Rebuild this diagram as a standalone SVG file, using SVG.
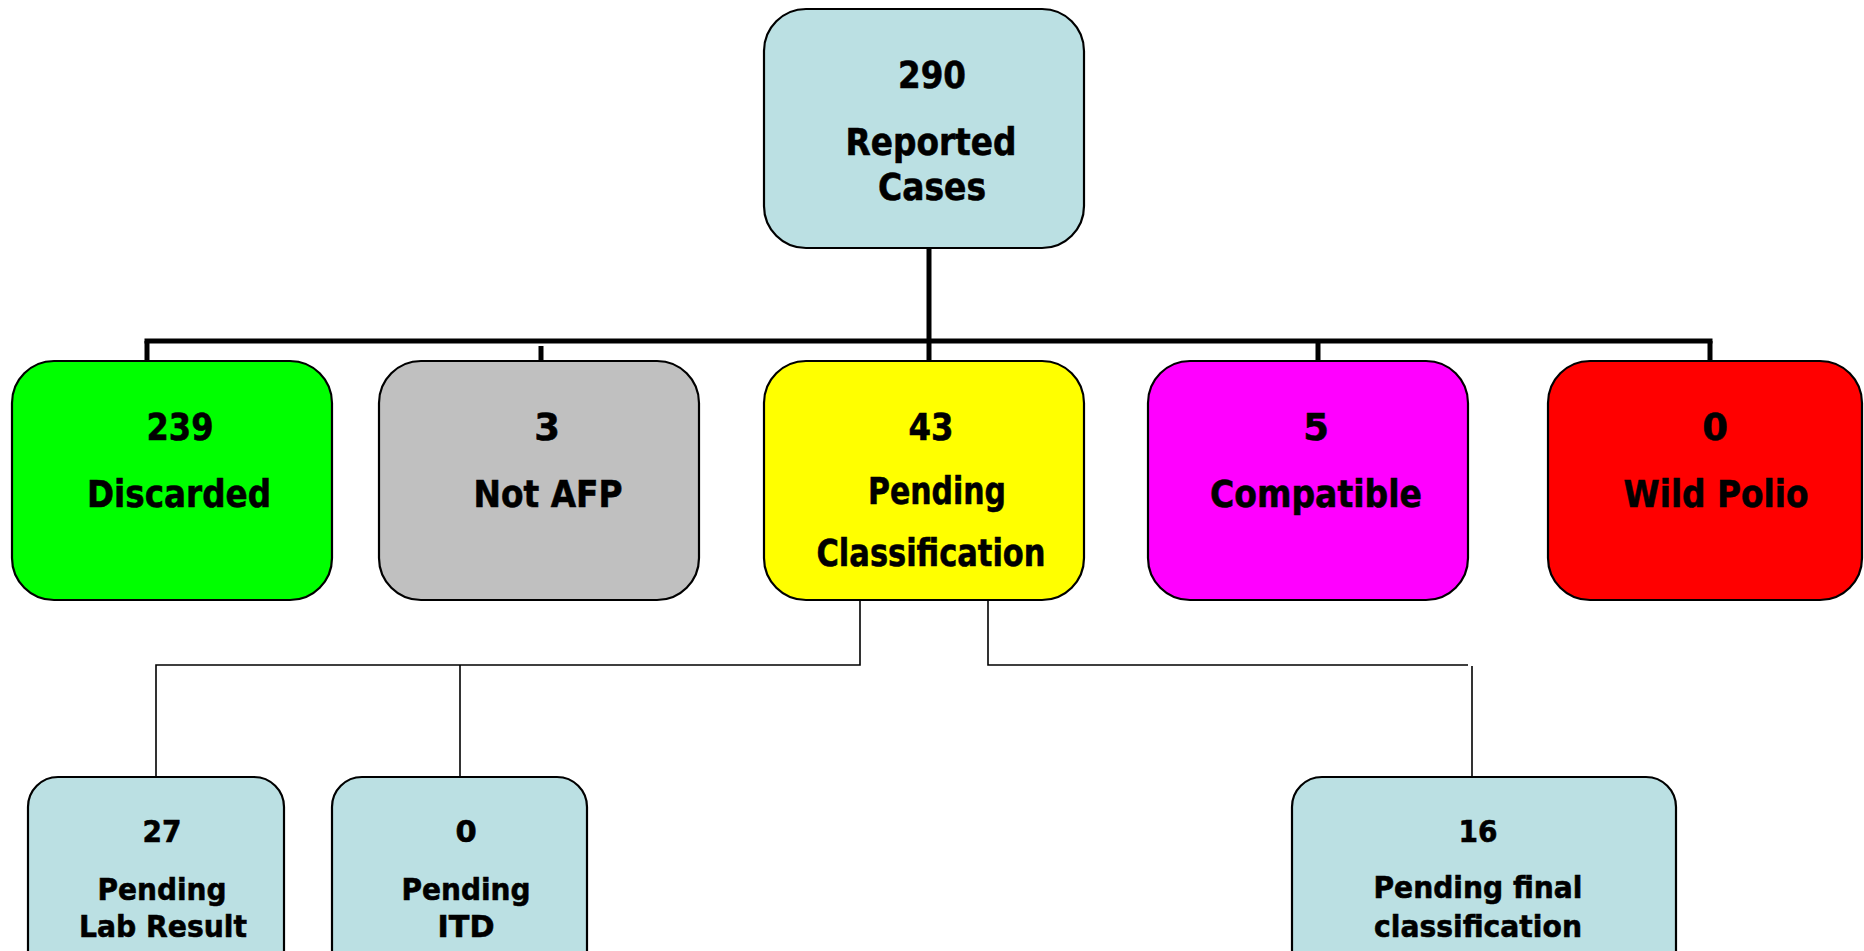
<svg xmlns="http://www.w3.org/2000/svg" width="1864" height="951" viewBox="0 0 1864 951">
<style>
.box{stroke:#000;stroke-width:2.2}
.blue{fill:#BBE0E3}
.t{font-family:"DejaVu Sans","Liberation Sans",sans-serif;font-weight:bold;fill:#000;stroke:#000;stroke-width:0.6;text-anchor:middle}
.big{font-size:37px}
.sm{font-size:30.5px}
.thick{stroke:#000;stroke-width:5;fill:none}
.thin{stroke:#000;stroke-width:1.6;fill:none}
</style>
<rect width="1864" height="951" fill="#fff"/>
<g id="connectors">
<line class="thick" x1="929" y1="248" x2="929" y2="361"/>
<line class="thick" x1="144.5" y1="341" x2="1712.5" y2="341"/>
<line class="thick" x1="147" y1="341" x2="147" y2="361"/>
<line class="thick" x1="541" y1="346" x2="541" y2="361"/>
<line class="thick" x1="1318" y1="341" x2="1318" y2="361"/>
<line class="thick" x1="1710" y1="341" x2="1710" y2="361"/>
<polyline class="thin" points="860,600 860,665 156,665 156,777"/>
<line class="thin" x1="460" y1="665" x2="460" y2="777"/>
<polyline class="thin" points="988,600 988,665 1468,665"/>
<line class="thin" x1="1472" y1="666" x2="1472" y2="777"/>
</g>
<g id="reported">
<rect class="box blue" x="764" y="9" width="320" height="239" rx="42"/>
<text class="t big" x="932" y="88" textLength="68" lengthAdjust="spacingAndGlyphs">290</text>
<text class="t big" x="931" y="155" textLength="171" lengthAdjust="spacingAndGlyphs">Reported</text>
<text class="t big" x="932" y="200" textLength="108" lengthAdjust="spacingAndGlyphs">Cases</text>
</g>
<g id="discarded">
<rect class="box" fill="#00FF00" x="12" y="361" width="320" height="239" rx="42"/>
<text class="t big" x="180" y="440" textLength="67" lengthAdjust="spacingAndGlyphs">239</text>
<text class="t big" x="179" y="507" textLength="184" lengthAdjust="spacingAndGlyphs">Discarded</text>
</g>
<g id="notafp">
<rect class="box" fill="#C0C0C0" x="379" y="361" width="320" height="239" rx="42"/>
<text class="t big" x="547" y="440">3</text>
<text class="t big" x="548" y="507" textLength="149" lengthAdjust="spacingAndGlyphs">Not AFP</text>
</g>
<g id="pending">
<rect class="box" fill="#FFFF00" x="764" y="361" width="320" height="239" rx="42"/>
<text class="t big" x="931" y="440" textLength="45" lengthAdjust="spacingAndGlyphs">43</text>
<text class="t big" x="937" y="504" textLength="138" lengthAdjust="spacingAndGlyphs">Pending</text>
<text class="t big" x="931" y="566" textLength="229" lengthAdjust="spacingAndGlyphs">Classification</text>
</g>
<g id="compatible">
<rect class="box" fill="#FF00FF" x="1148" y="361" width="320" height="239" rx="42"/>
<text class="t big" x="1316" y="440">5</text>
<text class="t big" x="1316" y="507" textLength="212" lengthAdjust="spacingAndGlyphs">Compatible</text>
</g>
<g id="wildpolio">
<rect class="box" fill="#FF0000" x="1548" y="361" width="314" height="239" rx="42"/>
<text class="t big" x="1715" y="440">0</text>
<text class="t big" x="1716" y="507" textLength="185" lengthAdjust="spacingAndGlyphs">Wild Polio</text>
</g>
<g id="lab">
<rect class="box blue" x="28" y="777" width="256" height="210" rx="30"/>
<text class="t sm" x="162" y="842" textLength="39" lengthAdjust="spacingAndGlyphs">27</text>
<text class="t sm" x="162" y="900" textLength="129" lengthAdjust="spacingAndGlyphs">Pending</text>
<text class="t sm" x="163" y="937" textLength="168" lengthAdjust="spacingAndGlyphs">Lab Result</text>
</g>
<g id="itd">
<rect class="box blue" x="332" y="777" width="255" height="210" rx="30"/>
<text class="t sm" x="466" y="842">0</text>
<text class="t sm" x="466" y="900" textLength="129" lengthAdjust="spacingAndGlyphs">Pending</text>
<text class="t sm" x="466" y="937" textLength="57" lengthAdjust="spacingAndGlyphs">ITD</text>
</g>
<g id="final">
<rect class="box blue" x="1292" y="777" width="384" height="210" rx="30"/>
<text class="t sm" x="1478" y="842" textLength="39" lengthAdjust="spacingAndGlyphs">16</text>
<text class="t sm" x="1478" y="898" textLength="209" lengthAdjust="spacingAndGlyphs">Pending final</text>
<text class="t sm" x="1478" y="937" textLength="208" lengthAdjust="spacingAndGlyphs">classification</text>
</g>
</svg>
